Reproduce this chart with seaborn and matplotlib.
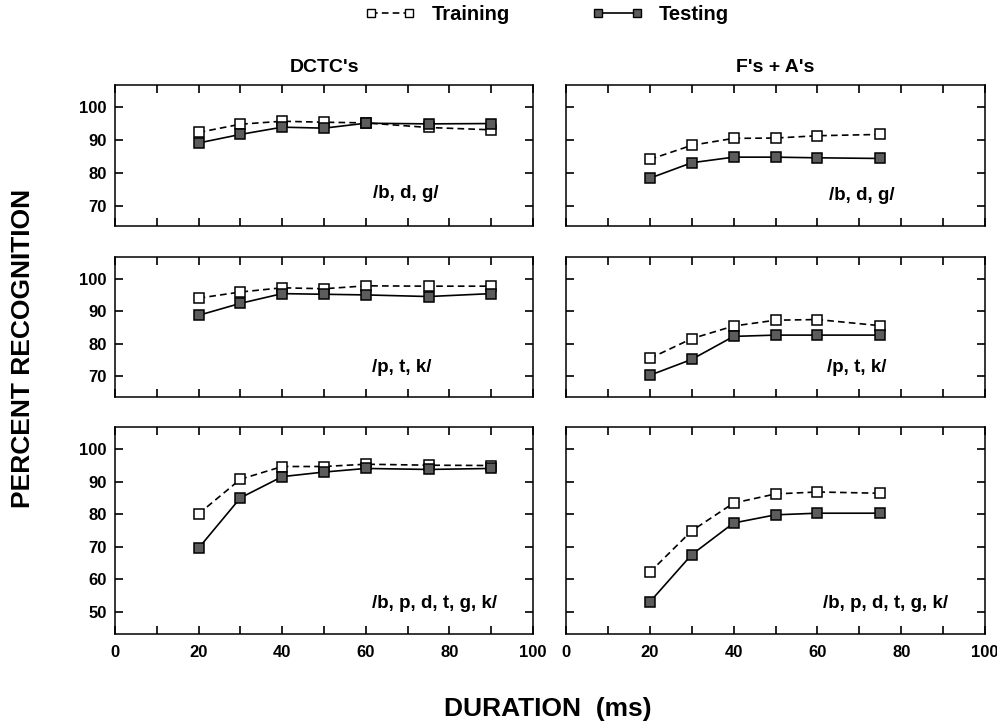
import numpy as np
import pandas as pd
import matplotlib
matplotlib.use("Agg")
import matplotlib.pyplot as plt
from matplotlib.lines import Line2D
import seaborn as sns

# ---------------- data ----------------
dur_dctc = [20, 30, 40, 50, 60, 75, 90]
dur_fa = [20, 30, 40, 50, 60, 75]

dctc_bdg_train = [92.2, 94.7, 95.6, 95.3, 95.1, 93.7, 93.0]
dctc_bdg_test = [89.0, 91.6, 93.8, 93.5, 95.0, 94.8, 94.9]
fa_bdg_train = [84.0, 88.3, 90.4, 90.5, 91.2, 91.6]
fa_bdg_test = [78.3, 83.0, 84.7, 84.7, 84.5, 84.3]

dctc_ptk_train = [94.1, 96.0, 97.3, 97.0, 97.9, 97.8, 97.8]
dctc_ptk_test = [88.8, 92.5, 95.5, 95.3, 95.1, 94.6, 95.5]
fa_ptk_train = [75.5, 81.6, 85.5, 87.3, 87.5, 85.6]
fa_ptk_test = [70.3, 75.2, 82.3, 82.7, 82.7, 82.7]

dctc_all_train = [80.1, 90.7, 94.6, 94.6, 95.3, 95.0, 94.9]
dctc_all_test = [69.6, 85.0, 91.5, 92.9, 94.0, 93.7, 94.0]
fa_all_train = [62.2, 74.9, 83.4, 86.2, 86.8, 86.4]
fa_all_test = [53.1, 67.6, 77.3, 79.8, 80.3, 80.3]

column_titles = ["DCTC's", "F's + A's"]
row_labels = ["/b, d, g/", "/p, t, k/", "/b, p, d, t, g, k/"]
series_names = ["Training", "Testing"]
xtick_labels = ["0", "", "20", "", "40", "", "60", "", "80", "", "100"]

panels = [
    [(dur_dctc, dctc_bdg_train, dctc_bdg_test), (dur_fa, fa_bdg_train, fa_bdg_test)],
    [(dur_dctc, dctc_ptk_train, dctc_ptk_test), (dur_fa, fa_ptk_train, fa_ptk_test)],
    [(dur_dctc, dctc_all_train, dctc_all_test), (dur_fa, fa_all_train, fa_all_test)],
]

# ---------------- style ----------------
sns.set_style("ticks")
plt.rcParams["font.family"] = ["Liberation Sans", "DejaVu Sans"]
plt.rcParams["font.weight"] = "bold"
plt.rcParams["axes.linewidth"] = 1.1
for k in ["text.color", "axes.labelcolor", "xtick.color", "ytick.color", "axes.edgecolor"]:
    plt.rcParams[k] = "black"

fig = plt.figure(figsize=(9.97, 7.22), dpi=100)
W, H = 997.0, 722.0

col_px = [(115, 418), (566, 419)]
row_px = [(85, 226), (257, 397), (427, 634)]
ylims = [(63.8, 106.6), (63.6, 106.8), (43.3, 106.7)]
yticks = [[70, 80, 90, 100], [70, 80, 90, 100], [50, 60, 70, 80, 90, 100]]
label_pos = [[(69.6, 73.6), (70.7, 73.0)],
             [(68.6, 72.8), (69.5, 72.6)],
             [(76.4, 52.6), (76.3, 52.6)]]

test_face = "#5c5c5c"
dash = (0, (4, 2.5))

for r in range(3):
    top, bot = row_px[r]
    for c in range(2):
        left, width = col_px[c]
        ax = fig.add_axes([left / W, 1 - bot / H, width / W, (bot - top) / H])
        x, tr, te = panels[r][c]
        sns.lineplot(x=x, y=tr, ax=ax, color="black", linestyle=dash, lw=1.2,
                     marker="s", markersize=7.5, markerfacecolor="white",
                     markeredgecolor="black", markeredgewidth=1.1,
                     estimator=None, sort=False, legend=False)
        sns.lineplot(x=x, y=te, ax=ax, color="black", linestyle="-", lw=1.2,
                     marker="s", markersize=7.5, markerfacecolor=test_face,
                     markeredgecolor="black", markeredgewidth=1.1,
                     estimator=None, sort=False, legend=False)
        ax.set_xlim(0, 100)
        ax.set_ylim(*ylims[r])
        ax.set_xticks(range(0, 101, 10))
        ax.set_yticks(yticks[r])
        ax.tick_params(direction="in", length=6, width=1.2, top=True, right=True,
                       labelsize=12, colors="black")
        ax.tick_params(axis="x", pad=8)
        ax.tick_params(axis="y", pad=6)
        if r == 2:
            ax.set_xticklabels(xtick_labels)
        else:
            ax.set_xticklabels([])
        if c == 0:
            ax.set_yticklabels([str(v) for v in yticks[r]])
        else:
            ax.set_yticklabels([])
        for lab in ax.get_xticklabels() + ax.get_yticklabels():
            lab.set_fontweight("bold")
        ax.set_xlabel("")
        ax.set_ylabel("")
        lx, ly = label_pos[r][c]
        ax.text(lx, ly, row_labels[r], ha="center", va="center",
                fontsize=13.5, fontweight="bold", color="black")
        if r == 0:
            ax.set_title(column_titles[c], fontsize=14, fontweight="bold", pad=9,
                         color="black")

# axis labels
fig.text(23 / W, 1 - 348 / H, "PERCENT RECOGNITION", rotation=90, ha="center",
         va="center", fontsize=19, fontweight="bold", color="black")
fig.text(548 / W, 1 - 709 / H, "DURATION  (ms)", ha="center", va="center",
         fontsize=19, fontweight="bold", color="black")

# legend
handles = [
    Line2D([], [], color="black", linestyle=dash, lw=1.2, marker="s", markersize=6,
           markerfacecolor="white", markeredgecolor="black", markeredgewidth=1),
    Line2D([], [], color="black", linestyle="-", lw=1.2, marker="s", markersize=6,
           markerfacecolor=test_face, markeredgecolor="black", markeredgewidth=1),
]
leg = fig.legend(handles, series_names, loc="center", bbox_to_anchor=(547 / W, 1 - 15 / H),
                 ncol=2, frameon=False, numpoints=2, handlelength=2.5,
                 handletextpad=0.8, columnspacing=4.1,
                 prop={"size": 14.5, "weight": "bold"})
for t in leg.get_texts():
    t.set_color("black")

fig.savefig("out.png", dpi=100)
